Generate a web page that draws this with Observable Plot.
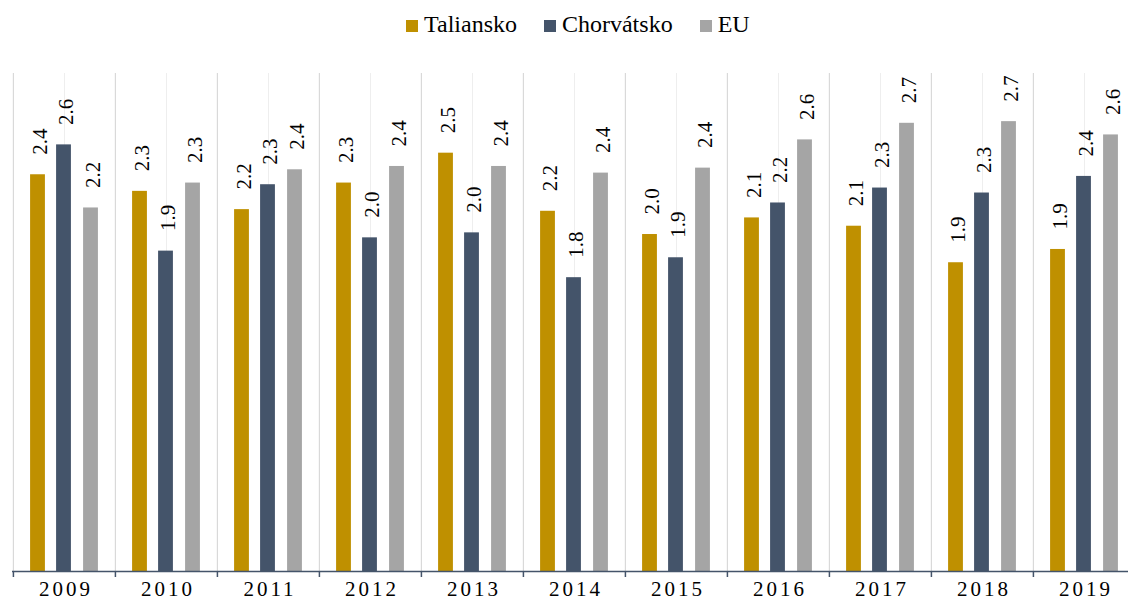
<!DOCTYPE html>
<html>
<head>
<meta charset="utf-8">
<script src="https://cdn.jsdelivr.net/npm/d3@7"></script>
<script src="https://cdn.jsdelivr.net/npm/@observablehq/plot@0.6"></script>
<style>
  html, body { margin: 0; padding: 0; background: #fff; overflow: hidden; }
  #legend {
    height: 50px; position: relative;
    font-family: "Liberation Serif", "Times New Roman", Times, "DejaVu Serif", serif; font-size: 24px; color: #000;
  }
  #legend .inner { position: absolute; top: 9px; left: 406px; line-height: 30px; white-space: nowrap; }
  #legend .item { display: inline-block; margin-right: 27px; }
  #legend .sw { display: inline-block; width: 12px; height: 12px; margin-right: 6px; }
  #chart svg text { font-family: "Liberation Serif", "Times New Roman", Times, "DejaVu Serif", serif; }
</style>
</head>
<body>
<div id="legend"><div class="inner"></div></div>
<div id="chart"></div>
<script>
const years = ["2009","2010","2011","2012","2013","2014","2015","2016","2017","2018","2019"];
const seriesNames = ["Taliansko", "Chorvátsko", "EU"];
const colors = ["#BF9000", "#44546A", "#A5A5A5"];
const taliansko  = [2.39, 2.29, 2.18, 2.34, 2.52, 2.17, 2.03, 2.13, 2.08, 1.86, 1.94];
const chorvatsko = [2.57, 1.93, 2.33, 2.01, 2.04, 1.77, 1.89, 2.22, 2.31, 2.28, 2.38];
const eu         = [2.19, 2.34, 2.42, 2.44, 2.44, 2.40, 2.43, 2.60, 2.70, 2.71, 2.63];
const seriesValues = [taliansko, chorvatsko, eu];

// legend
const inner = document.querySelector("#legend .inner");
seriesNames.forEach((n, i) => {
  const it = document.createElement("span");
  it.className = "item";
  it.innerHTML = `<span class="sw" style="background:${colors[i]}"></span>${n}`;
  inner.appendChild(it);
});

const W = 1128, H = 556;
const xRange = [12, 1136];
const step = (xRange[1] - xRange[0]) / years.length;
const barW = 15;
const inset = (step - barW) / 2;
const offsets = [-26.5, -0.5, 26.5];

const marks = [
  Plot.ruleX(years, {x: d => d, stroke: "#eeeeee", strokeWidth: 1}),
  Plot.ruleX(years, {x: d => d, dx: -step / 2, stroke: "#d9d9d9", strokeWidth: 1.2}),
];
seriesValues.forEach((vals, i) => {
  const rows = years.map((y, j) => ({year: y, value: vals[j]}));
  marks.push(Plot.barY(rows, {x: "year", y: "value", fill: colors[i], dx: offsets[i], insetLeft: inset, insetRight: inset}));
});
marks.push(Plot.ruleY([0], {stroke: "#44546A", strokeWidth: 1.5}));
marks.push(Plot.ruleX(years, {x: d => d, y1: () => 0, y2: () => 0, dx: -step / 2, insetBottom: -6, stroke: "#44546A", strokeWidth: 1.5}));
seriesValues.forEach((vals, i) => {
  const rows = years.map((y, j) => ({year: y, value: vals[j]}));
  marks.push(Plot.text(rows, {
    x: "year", y: "value", text: d => d.value.toFixed(1),
    rotate: -90, textAnchor: "start", lineAnchor: "middle",
    dx: offsets[i] + 2, dy: -20, fontSize: 21, fill: "#000"
  }));
});
marks.push(Plot.text(years, {
  x: d => d, frameAnchor: "bottom", dy: 24, dx: 1.5, text: d => d,
  fontSize: 21, fill: "#000"
}));

const chart = Plot.plot({
  width: W, height: H,
  marginTop: 23, marginBottom: 35, marginLeft: 12, marginRight: 0,
  x: {domain: years, range: xRange, padding: 0, axis: null},
  y: {domain: [0, 3], axis: null},
  marks
});
d3.select(chart).selectAll("text").filter(function() { return /^\d{4}$/.test(this.textContent); })
  .style("letter-spacing", "3px");
document.getElementById("chart").appendChild(chart);
</script>
</body>
</html>
